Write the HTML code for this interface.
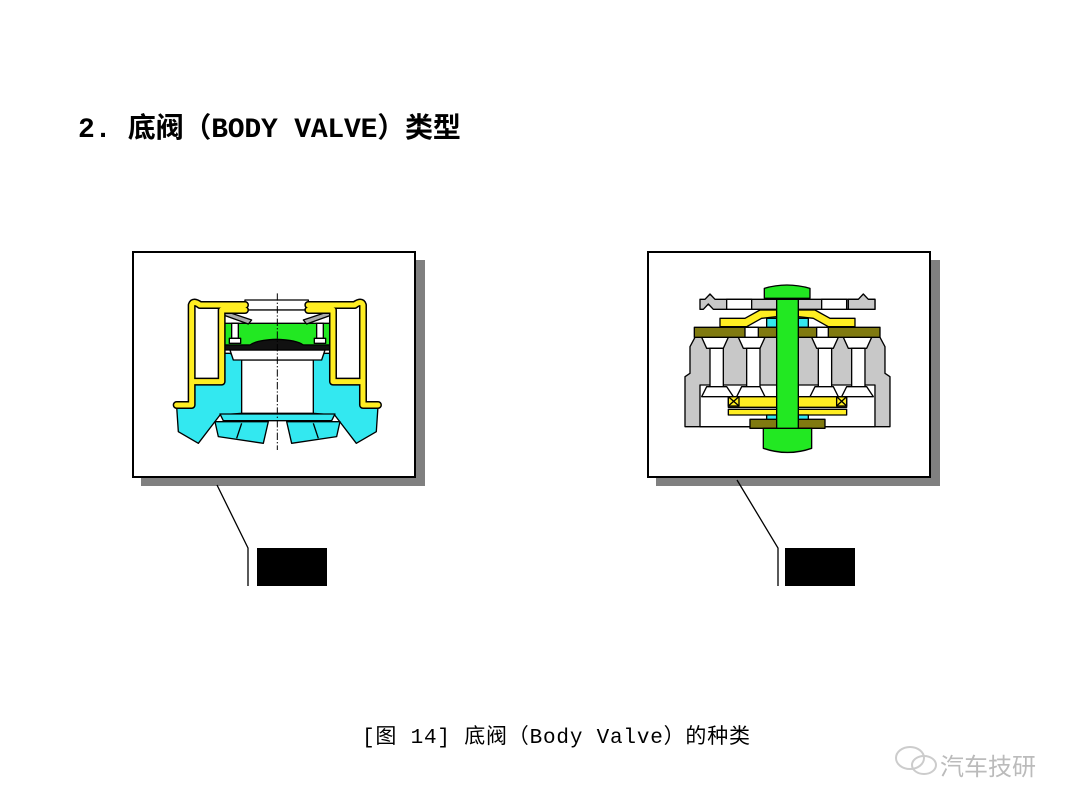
<!DOCTYPE html>
<html><head><meta charset="utf-8"><style>
body{margin:0;width:1080px;height:810px;background:#fff;position:relative;overflow:hidden;font-family:"Liberation Mono","Noto Sans CJK SC",monospace}
.t{position:absolute;white-space:nowrap;color:#000}
</style></head><body>
<div class="t" style="left:78px;top:106px;font-size:28px;font-weight:bold;letter-spacing:-0.2px">2. 底阀（BODY VALVE）类型</div>
<div class="t" style="left:362px;top:720px;font-size:21px;letter-spacing:0.8px">[图 14] 底阀（Body Valve）的种类</div>
<div class="t" style="left:940px;top:747px;font-size:24px;color:#bbb;font-family:'Noto Sans CJK SC',sans-serif">汽车技研</div>
<svg width="1080" height="810" style="position:absolute;left:0;top:0">
<g fill="none" stroke="#ccc" stroke-width="2"><ellipse cx="910" cy="758" rx="14" ry="11"/><ellipse cx="924" cy="765" rx="12" ry="9"/></g>
<rect x="141" y="260" width="284" height="226" fill="#808080"/>
<rect x="133" y="252" width="282" height="225" fill="#fff" stroke="#000" stroke-width="2"/>
<rect x="656" y="260" width="284" height="226" fill="#808080"/>
<rect x="648" y="252" width="282" height="225" fill="#fff" stroke="#000" stroke-width="2"/>
<polyline points="217,485 248,548 248,586" fill="none" stroke="#000" stroke-width="1.3"/>
<polyline points="737,480 778,548 778,586" fill="none" stroke="#000" stroke-width="1.3"/>
<rect x="257" y="548" width="70" height="38" fill="#000"/>
<rect x="785" y="548" width="70" height="38" fill="#000"/>

<g transform="translate(130,250) scale(0.3333)" stroke="#000" stroke-width="4" stroke-linejoin="round">
 <polygon fill="#33e8f0" points="140,470 190,470 190,400 275,400 275,310 300,310 335,330 335,490 270,495 205,580 145,545"/>
 <polygon fill="#33e8f0" points="744,470 694,470 694,400 609,400 609,310 584,310 549,330 549,490 614,495 679,580 739,545"/>
 <polygon fill="#33e8f0" points="270,492 615,492 605,512 280,512"/>
 <polygon fill="#33e8f0" points="255,515 415,515 400,580 265,560"/>
 <polygon fill="#33e8f0" points="470,515 630,515 620,560 485,580"/>
 <line x1="335" y1="520" x2="320" y2="565"/><line x1="550" y1="520" x2="565" y2="565"/>
 <rect x="335" y="330" width="215" height="160" fill="#fff"/>
 <rect x="275" y="220" width="335" height="65" fill="#22e822"/>
 <polygon fill="#fff" points="300,300 585,300 575,330 310,330"/>
 <path d="M280,285 H360 Q380,270 440,268 Q500,270 520,285 H600 V300 H280 Z" fill="#111"/>
 <rect x="345" y="150" width="190" height="30" fill="#fff"/>
 <rect x="275" y="180" width="335" height="40" fill="#fff"/>
 <g fill="#aaa"><polygon points="280,195 290,185 365,210 355,222"/><polygon points="605,195 595,185 520,210 530,222"/></g>
 <rect x="305" y="220" width="20" height="45" fill="#fff"/><rect x="560" y="220" width="20" height="45" fill="#fff"/>
 <rect x="298" y="265" width="34" height="15" fill="#fff"/><rect x="553" y="265" width="34" height="15" fill="#fff"/>
 <g fill="none" stroke-linecap="round">
  <path d="M140,465 H185 V395 H275 V180 H345 M185,395 V165 Q190,150 210,165 H345" stroke="#000" stroke-width="24"/>
  <path d="M140,465 H185 V395 H275 V180 H345 M185,395 V165 Q190,150 210,165 H345" stroke="#ffee22" stroke-width="15"/>
  <path d="M744,465 H699 V395 H609 V180 H535 M699,395 V165 Q694,150 674,165 H535" stroke="#000" stroke-width="24"/>
  <path d="M744,465 H699 V395 H609 V180 H535 M699,395 V165 Q694,150 674,165 H535" stroke="#ffee22" stroke-width="15"/>
 </g>
 <line x1="442" y1="130" x2="442" y2="600" stroke-width="3" stroke-dasharray="22,6,4,6"/>
</g>

<g transform="translate(645,250) scale(0.3333)" stroke="#000" stroke-width="4" stroke-linejoin="round">
 <polygon fill="#c8c8c8" points="120,530 120,380 135,370 135,290 150,262 705,262 720,290 720,370 735,380 735,530"/>
 <rect x="165" y="405" width="230" height="125" fill="#fff"/>
 <rect x="460" y="405" width="230" height="125" fill="#fff"/>
 <g fill="#fff">
  <polygon points="170,262 250,262 235,295 185,295"/><rect x="195" y="295" width="40" height="115"/><polygon points="185,410 245,410 265,440 170,440"/>
  <polygon points="280,262 360,262 345,295 295,295"/><rect x="305" y="295" width="40" height="115"/><polygon points="290,410 345,410 360,440 275,440"/>
  <polygon points="500,262 580,262 565,295 515,295"/><rect x="520" y="295" width="40" height="115"/><polygon points="510,410 565,410 580,440 495,440"/>
  <polygon points="595,262 680,262 665,295 610,295"/><rect x="620" y="295" width="40" height="115"/><polygon points="605,410 665,410 685,440 590,440"/>
 </g>
 <polygon fill="#c8c8c8" points="165,148 180,148 195,132 210,148 690,148 690,178 665,178 650,160 635,178 205,178 190,162 175,178 165,178"/>
 <polygon fill="#c8c8c8" points="610,148 640,148 655,132 670,148 690,148 690,178 610,178"/>
 <rect x="245" y="148" width="75" height="30" fill="#fff"/><rect x="530" y="148" width="75" height="30" fill="#fff"/>
 <polygon fill="#ffee22" points="225,230 225,205 300,205 345,180 395,180 395,200 350,205 305,230"/>
 <polygon fill="#ffee22" points="630,230 630,205 555,205 510,180 460,180 460,200 505,205 550,230"/>
 <rect x="365" y="205" width="30" height="27" fill="#33e8f0"/><rect x="460" y="205" width="30" height="27" fill="#33e8f0"/>
 <rect x="148" y="232" width="557" height="30" fill="#807a10"/>
 <rect x="300" y="232" width="40" height="30" fill="#fff"/><rect x="515" y="232" width="35" height="30" fill="#fff"/>
 <rect x="250" y="440" width="355" height="32" fill="#ffee22"/>
 <rect x="250" y="478" width="355" height="17" fill="#ffee22"/>
 <rect x="250" y="440" width="32" height="28" fill="#ffee22"/><path d="M250,440 L282,468 M282,440 L250,468" /><rect x="575" y="440" width="30" height="28" fill="none"/><path d="M575,440 L605,468 M605,440 L575,468"/>
 <rect x="365" y="495" width="30" height="15" fill="#33e8f0"/><rect x="460" y="495" width="30" height="15" fill="#33e8f0"/>
 <rect x="315" y="508" width="225" height="27" fill="#807a10"/>
 <path d="M358,145 V115 Q425,95 495,115 V145 Z" fill="#22e822"/>
 <path d="M355,535 H500 V595 Q428,620 355,595 Z" fill="#22e822"/>
 <rect x="395" y="148" width="65" height="387" fill="#22e822"/>
</g>
</svg>
</body></html>
